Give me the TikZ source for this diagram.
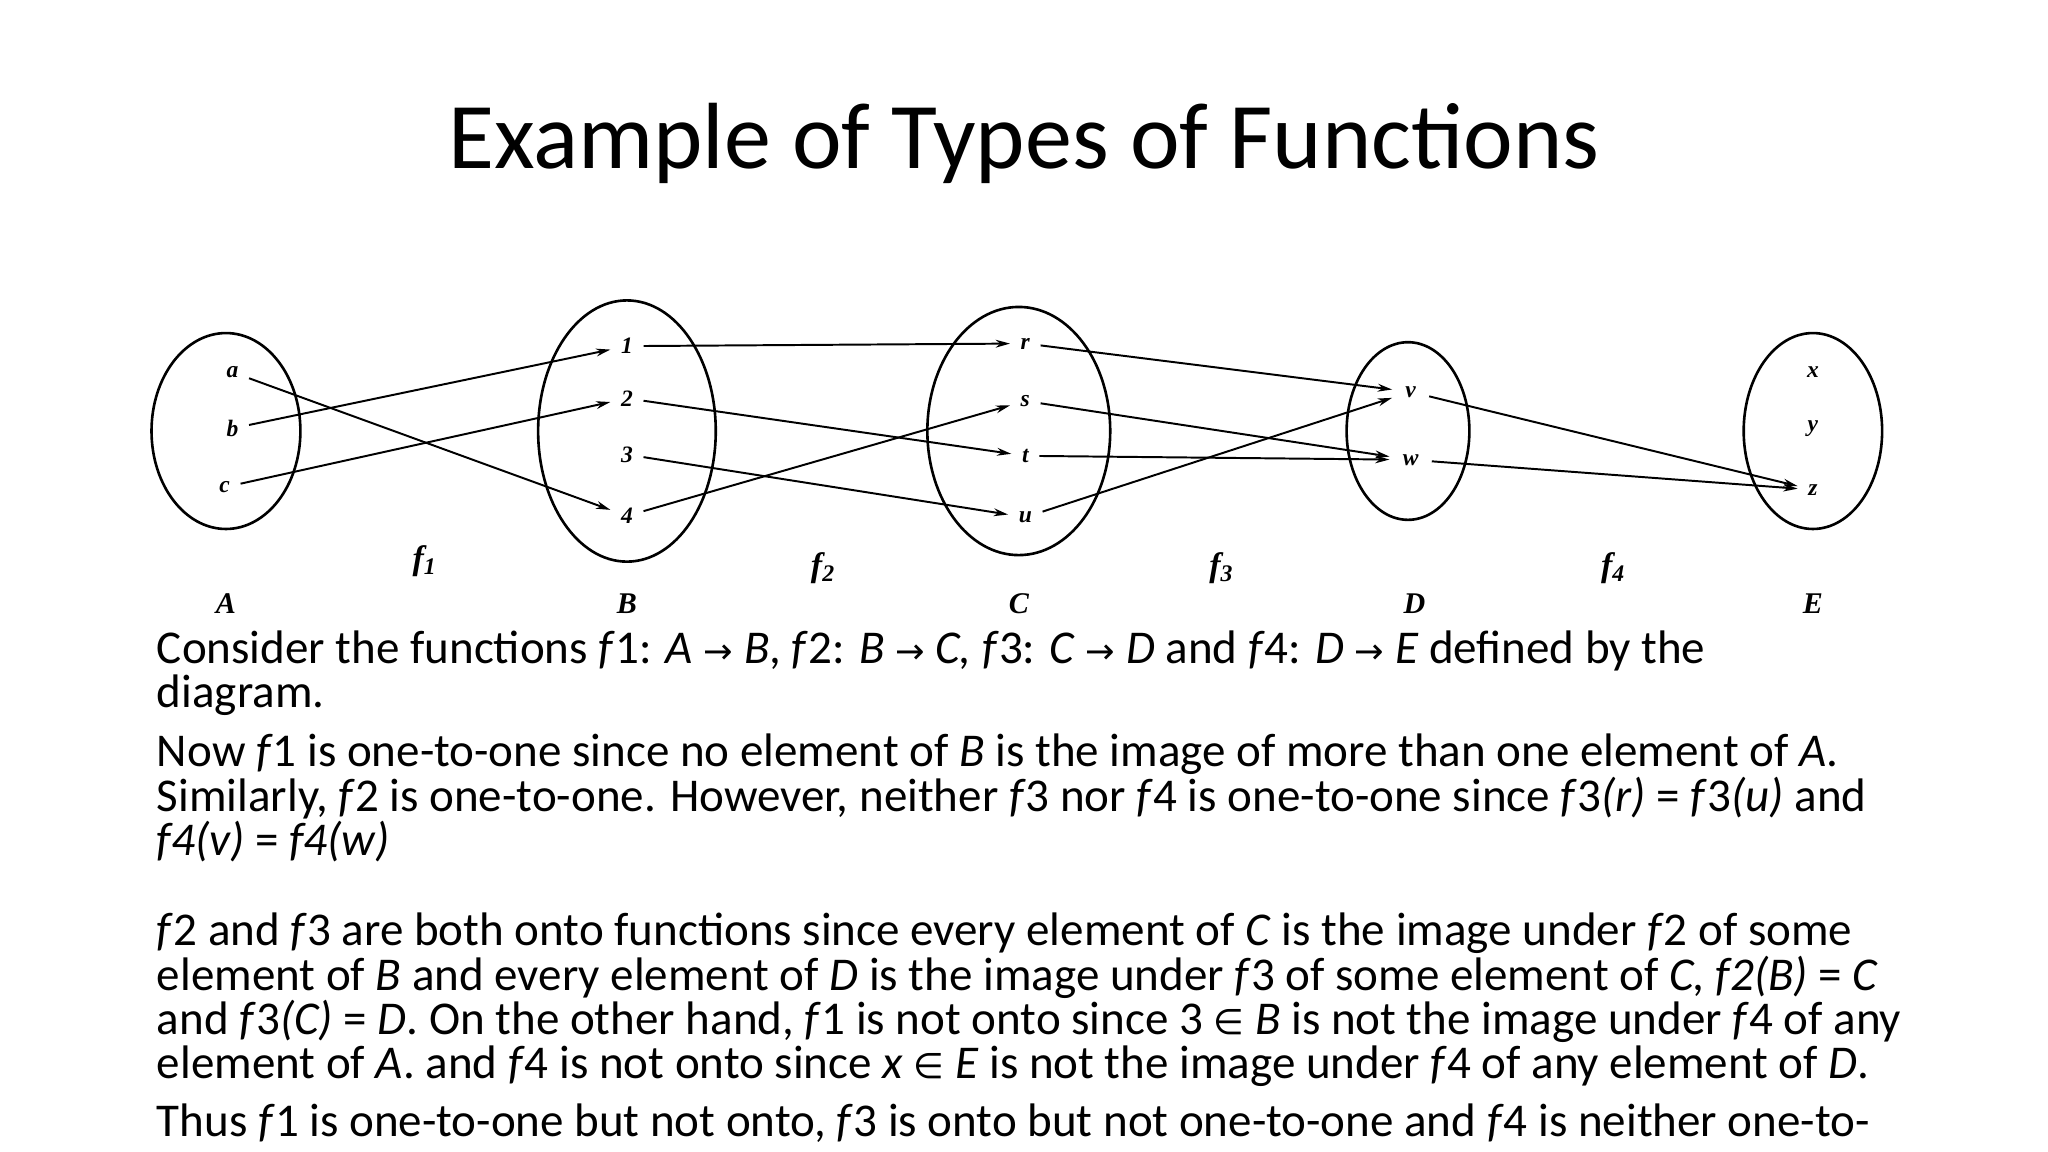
\documentclass[tikz,border=0pt]{standalone}
\usepackage{fontspec}
\setmainfont{Carlito}
\newfontfamily\lab{Liberation Serif}
\newfontfamily\sym{DejaVu Sans}
\newcommand{\ar}{{\sym\fontsize{27}{34}\selectfont →}}
\newcommand{\inn}{{\sym\fontsize{27}{34}\selectfont ∈}}
\usetikzlibrary{arrows.meta}
\begin{document}
\begin{tikzpicture}[x=1pt,y=-1pt,
  el/.style={font=\lab\bfseries\itshape\fontsize{18}{18}\selectfont,inner sep=8pt},
  setl/.style={font=\lab\bfseries\itshape\fontsize{23}{23}\selectfont},
  fl/.style={font=\lab\bfseries\itshape\fontsize{26}{26}\selectfont},
  arr/.style={-{Stealth[length=11pt,width=6pt]},line width=1.5pt},
  ell/.style={draw,line width=2pt},
  txt/.style={anchor=base west,inner sep=0pt,font=\fontsize{36}{34}\selectfont}]
\useasboundingbox (0,0) rectangle (1568,882);
\node[font=\fontsize{72}{80}\selectfont] (title) at (784,110) {Example of Types of Functions};
\draw[ell] (173,330) ellipse [x radius=57,y radius=75];
\draw[ell] (480,330) ellipse [x radius=68,y radius=100];
\draw[ell] (780,330) ellipse [x radius=70,y radius=95];
\draw[ell] (1078,330) ellipse [x radius=47,y radius=68];
\draw[ell] (1388,330) ellipse [x radius=53,y radius=75];
\node[el] (a) at (178,285) {a};
\node[el] (b) at (178,328) {b};
\node[el] (c) at (172,373) {c};
\node[el] (n1) at (480,265) {1};
\node[el] (n2) at (480,305) {2};
\node[el] (n3) at (480,348) {3};
\node[el] (n4) at (480,395) {4};
\node[el] (r) at (785,263) {r};
\node[el] (s) at (785,307) {s};
\node[el] (t) at (785,349) {t};
\node[el] (u) at (785,396) {u};
\node[el,inner sep=10pt] (v) at (1080,300) {v};
\node[el,inner sep=10pt] (w) at (1080,352) {w};
\node[el] (x) at (1388,285) {x};
\node[el] (y) at (1388,328) {y};
\node[el] (z) at (1388,375) {z};
\draw[arr] (a) -- (n4);
\draw[arr] (b) -- (n1);
\draw[arr] (c) -- (n2);
\draw[arr] (n1) -- (r);
\draw[arr] (n2) -- (t);
\draw[arr] (n3) -- (u);
\draw[arr] (n4) -- (s);
\draw[arr] (r) -- (v);
\draw[arr] (s) -- (w);
\draw[arr] (t) -- (w);
\draw[arr] (u) -- (v);
\draw[arr] (v) -- (z);
\draw[arr] (w) -- (z);
\node[fl] (f1) at (325,430) {f\textsubscript{1}};
\node[fl] (f2) at (630,435) {f\textsubscript{2}};
\node[fl] (f3) at (935,435) {f\textsubscript{3}};
\node[fl] (f4) at (1235,435) {f\textsubscript{4}};
\node[setl] (A) at (173,462) {A};
\node[setl] (B) at (480,462) {B};
\node[setl] (C) at (780,462) {C};
\node[setl] (D) at (1083,462) {D};
\node[setl] (E) at (1388,462) {E};
\node[txt] (l1) at (120,508) {Consider the functions \textit{f}1: \textit{A} \ar{} \textit{B}, \textit{f}2: \textit{B} \ar{} \textit{C, f}3: \textit{C} \ar{} \textit{D} and \textit{f}4: \textit{D} \ar{} \textit{E} defined by the};
\node[txt] (l2) at (120,542) {diagram.};
\node[txt] (l3) at (120,587) {Now \textit{f}1 is one-to-one since no element of \textit{B} is the image of more than one element of \textit{A}.};
\node[txt] (l4) at (120,621) {Similarly, \textit{f}2 is one-to-one. However, neither \textit{f}3 nor \textit{f}4 is one-to-one since \textit{f}3\textit{(r)} = \textit{f}3\textit{(u)} and};
\node[txt] (l5) at (120,655) {\textit{f4(v)} = \textit{f4(w)}};
\node[txt] (l6) at (120,724) {\textit{f}2 and \textit{f}3 are both onto functions since every element of \textit{C} is the image under \textit{f}2 of some};
\node[txt] (l7) at (120,758) {element of \textit{B} and every element of \textit{D} is the image under \textit{f}3 of some element of \textit{C, f2(B)} = \textit{C}};
\node[txt] (l8) at (120,792) {and \textit{f}3\textit{(C)} = \textit{D}. On the other hand, \textit{f}1 is not onto since 3 \inn{} \textit{B} is not the image under \textit{f}4 of any};
\node[txt] (l9) at (120,826) {element of \textit{A}. and \textit{f}4 is not onto since \textit{x} \inn{} \textit{E} is not the image under \textit{f}4 of any element of \textit{D}.};
\node[txt] (l10) at (120,870) {Thus \textit{f}1 is one-to-one but not onto, \textit{f}3 is onto but not one-to-one and \textit{f}4 is neither one-to-};
\end{tikzpicture}
\end{document}
